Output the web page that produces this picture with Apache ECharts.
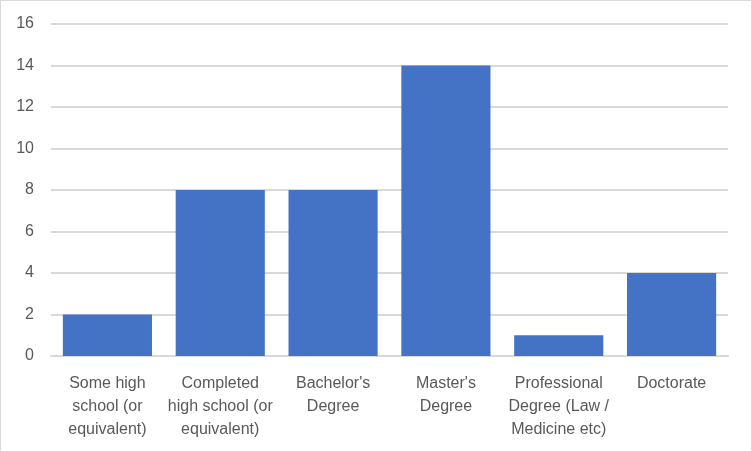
<!DOCTYPE html>
<html>
<head>
<meta charset="utf-8">
<script src="https://cdn.jsdelivr.net/npm/echarts@6/dist/echarts.min.js"></script>
<style>
html,body{margin:0;padding:0;background:#fff;}
#c{width:752px;height:452px;box-sizing:border-box;border:1px solid #d9d9d9;}
</style>
</head>
<body>
<div id="c"></div>
<script>
const categories = [
  "Some high\nschool (or\nequivalent)",
  "Completed\nhigh school (or\nequivalent)",
  "Bachelor's\nDegree",
  "Master's\nDegree",
  "Professional\nDegree (Law /\nMedicine etc)",
  "Doctorate"
];
const values = [2, 8, 8, 14, 1, 4];
const yMin = 0, yMax = 16, yStep = 2;

const chart = echarts.init(document.getElementById('c'), null, {renderer: 'canvas'});
chart.setOption({
  animation: false,
  grid: {left: 50, right: 23, top: 23, bottom: 95, containLabel: false},
  xAxis: {
    type: 'category',
    data: categories,
    axisLine: {show: true, lineStyle: {color: '#d9d9d9', width: 2}},
    axisTick: {show: false},
    axisLabel: {
      color: '#595959', fontFamily: 'Liberation Sans', fontSize: 16,
      lineHeight: 23, margin: 16, interval: 0, align: 'center'
    }
  },
  yAxis: {
    type: 'value',
    min: yMin, max: yMax, interval: yStep,
    axisLine: {show: false},
    axisTick: {show: false},
    splitLine: {lineStyle: {color: '#d9d9d9', width: 2}},
    axisLabel: {color: '#595959', fontFamily: 'Liberation Sans', fontSize: 16, margin: 17}
  },
  series: [{
    type: 'bar',
    data: values,
    barCategoryGap: '21%',
    itemStyle: {color: '#4472C4'}
  }]
});
</script>
</body>
</html>
